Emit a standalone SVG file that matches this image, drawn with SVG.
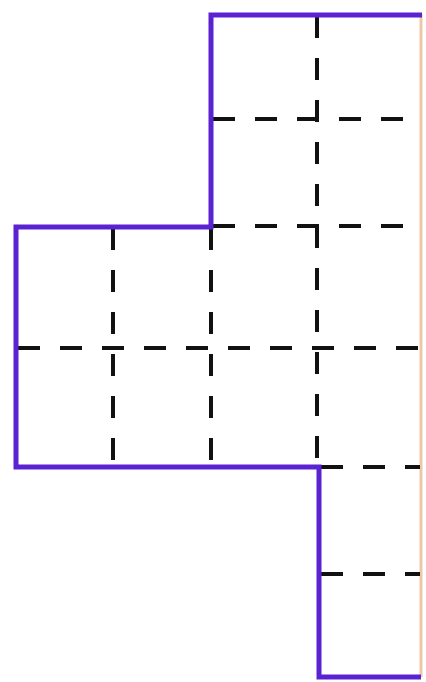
<svg xmlns="http://www.w3.org/2000/svg" width="426" height="682" viewBox="0 0 426 682">
<style>
.d{stroke:#111;stroke-width:4;stroke-dasharray:22 20;fill:none}
.o{stroke:#5b22d2;stroke-width:5;fill:none;stroke-linejoin:miter}
.e{stroke:#efc7a6;stroke-width:3;fill:none}
</style>
<rect width="426" height="682" fill="#fff"/>
<g id="edge">
<line class="e" x1="421" y1="14" x2="421" y2="677"/>
</g>
<g id="grid">
<line class="d" x1="317" y1="16" x2="317" y2="466"/>
<line class="d" x1="113" y1="228" x2="113" y2="466"/>
<line class="d" x1="211" y1="228" x2="211" y2="466"/>
<line class="d" x1="213" y1="119" x2="420" y2="119"/>
<line class="d" x1="213" y1="226" x2="420" y2="226"/>
<line class="d" x1="18" y1="348" x2="420" y2="348"/>
<line class="d" x1="321" y1="467" x2="420" y2="467"/>
<line class="d" x1="321" y1="574" x2="420" y2="574"/>
</g>
<g id="outline">
<path class="o" d="M422 15 H211 V227 H16 V467 H319 V677 H421"/>
</g>
</svg>
